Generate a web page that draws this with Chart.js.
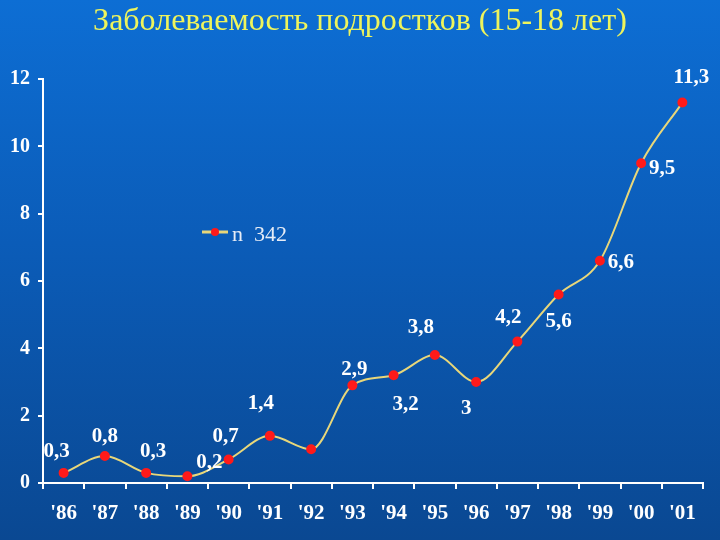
<!DOCTYPE html>
<html><head><meta charset="utf-8">
<script src="https://cdn.jsdelivr.net/npm/chart.js@4"></script>
<style>
html,body{margin:0;padding:0;}
body{width:720px;height:540px;overflow:hidden;background:linear-gradient(to bottom,#0d6ed4 0%,#0b5cb8 45%,#0a4892 100%);position:relative;}
#title{position:absolute;left:0;top:1px;width:720px;text-align:center;font-family:"Liberation Serif","Times New Roman",serif;font-size:32px;color:#eef45c;}
#wrap{position:absolute;left:0;top:0;width:720px;height:540px;}
</style></head>
<body>
<div id="wrap"><canvas id="c" width="720" height="540"></canvas></div>
<div id="title">Заболеваемость подростков (15-18 лет)</div>
<script>
const categories = ["'86","'87","'88","'89","'90","'91","'92","'93","'94","'95","'96","'97","'98","'99","'00","'01"];
const values = [0.3,0.8,0.3,0.2,0.7,1.4,1.0,2.9,3.2,3.8,3.0,4.2,5.6,6.6,9.5,11.3];
const valueLabels = ["0,3","0,8","0,3","0,2","0,7","1,4",null,"2,9","3,2","3,8","3","4,2","5,6","6,6","9,5","11,3"];
const seriesName = "n  342";
const yTicks = [0,2,4,6,8,10,12];

// label placement style (offset of label centre from point, px)
const labelOffsets = [[-7,-21],[0,-19],[7,-21],[22,-14],[-3,-23],[-9,-32],[0,0],[2,-16],[12,29],[-14,-27],[-10,27],[-9,-24],[0,27],[21,2],[21,5],[9,-25]];

const serif = '"Liberation Serif","Times New Roman",serif';

const labelPlugin = {
  id:'labels',
  afterDatasetsDraw(chart){
    const ctx = chart.ctx;
    const meta = chart.getDatasetMeta(0);
    ctx.save();
    ctx.font = 'bold 21px ' + serif;
    ctx.fillStyle = '#ffffff';
    ctx.textAlign = 'center';
    ctx.textBaseline = 'middle';
    meta.data.forEach((pt,i)=>{
      const t = valueLabels[i];
      if(!t) return;
      const o = labelOffsets[i];
      ctx.fillText(t, pt.x + o[0], pt.y + o[1]);
    });
    // legend
    const lx = 202, ly = 232;
    ctx.strokeStyle = '#e8d77a';
    ctx.lineWidth = 3;
    ctx.beginPath(); ctx.moveTo(lx, ly); ctx.lineTo(lx+26, ly); ctx.stroke();
    ctx.fillStyle = '#ff1a1a';
    ctx.beginPath(); ctx.arc(lx+13, ly, 4, 0, Math.PI*2); ctx.fill();
    ctx.font = '22px ' + serif;
    ctx.fillStyle = '#e6ecf6';
    ctx.textAlign = 'left';
    ctx.textBaseline = 'alphabetic';
    ctx.fillText(seriesName, lx+30, ly+9);
    ctx.restore();
  }
};

new Chart(document.getElementById('c'), {
  type:'line',
  data:{
    labels:categories,
    datasets:[{
      label:seriesName,
      data:values,
      borderColor:'#e8d77a',
      borderWidth:2,
      tension:0.4,
      cubicInterpolationMode:'monotone',
      pointBackgroundColor:'#ff1a1a',
      pointBorderColor:'#ff1a1a',
      pointRadius:4,
      fill:false
    }]
  },
  options:{
    responsive:false,
    animation:false,
    layout:{padding:{top:79,right:17,left:0,bottom:0}},
    plugins:{legend:{display:false},tooltip:{enabled:false},title:{display:false}},
    scales:{
      x:{
        offset:true,
        grid:{offset:true,drawOnChartArea:false,drawTicks:true,tickLength:6,color:'#ffffff',lineWidth:2},
        border:{display:true,color:'#ffffff',width:2},
        ticks:{color:'#ffffff',font:{family:serif,size:21,weight:'bold'},padding:12,maxRotation:0,autoSkip:false},
        afterFit(s){s.height = 57;}
      },
      y:{
        min:0,max:12,
        afterBuildTicks(s){s.ticks = yTicks.map(v=>({value:v}));},
        grid:{drawOnChartArea:false,drawTicks:true,tickLength:5,color:'#ffffff',lineWidth:2},
        border:{display:true,color:'#ffffff',width:2},
        ticks:{color:'#ffffff',font:{family:serif,size:20,weight:'bold'},padding:8},
        afterFit(s){s.width = 43;}
      }
    }
  },
  plugins:[labelPlugin]
});
</script>
</body></html>
